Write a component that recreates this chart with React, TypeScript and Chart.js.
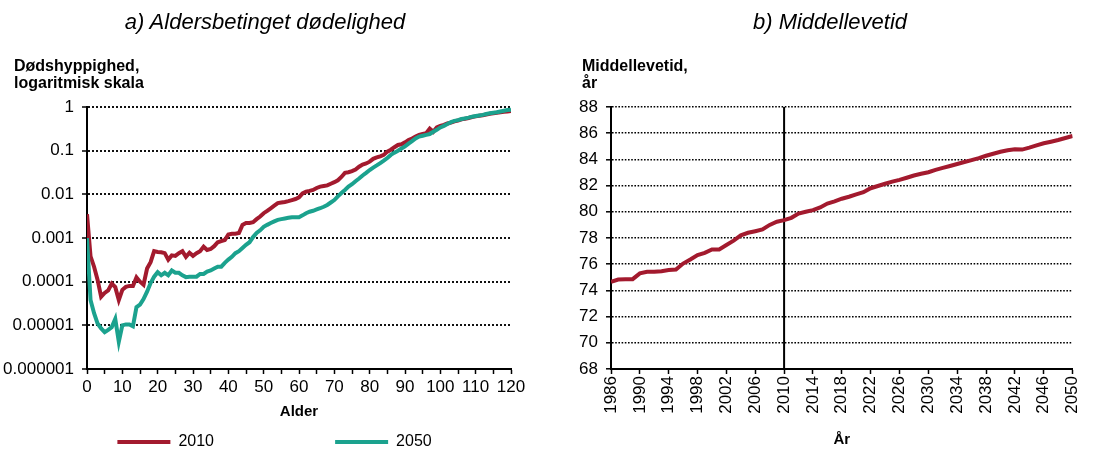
import React, { useEffect, useRef } from 'react';
import { Chart, registerables } from 'chart.js';

Chart.register(...registerables);

const FONT = "'Liberation Sans', Arial, Helvetica, sans-serif";
Chart.defaults.font.family = FONT;
Chart.defaults.color = '#000';

// ---------- Panel a) data ----------
const ages = Array.from({ length: 121 }, (_, i) => i);

const mortality2010 = [
  0.0035, 0.00038, 0.00022, 0.00011, 0.000045, 0.000055, 0.000063, 0.00009, 0.000075, 0.000038,
  0.000065, 0.000076, 0.00008, 0.00008, 0.000125, 0.0001, 0.000085, 0.0002, 0.00028, 0.0005,
  0.00048, 0.00047, 0.00045, 0.00032, 0.0004, 0.00039, 0.00045, 0.0005, 0.00037, 0.00046,
  0.00039, 0.00045, 0.0005, 0.00063, 0.00053, 0.00056, 0.00065, 0.0008, 0.00085, 0.0009,
  0.0012, 0.00125, 0.00125, 0.0013, 0.002, 0.0022, 0.0022, 0.0023, 0.0027, 0.0031,
  0.0037, 0.0042, 0.0048, 0.0055, 0.0063, 0.0065, 0.0067, 0.007, 0.0074, 0.0078,
  0.0085, 0.0105, 0.0115, 0.012, 0.0126, 0.014, 0.015, 0.0155, 0.016, 0.0175,
  0.019, 0.021, 0.025, 0.031, 0.032, 0.034, 0.037, 0.043, 0.048, 0.051,
  0.056, 0.065, 0.07, 0.074, 0.08, 0.095, 0.105, 0.12, 0.135, 0.14,
  0.155, 0.175, 0.19, 0.21, 0.23, 0.24, 0.25, 0.32, 0.27, 0.34,
  0.37, 0.39, 0.42, 0.44, 0.47, 0.49, 0.52, 0.54, 0.56, 0.59,
  0.61, 0.63, 0.65, 0.67, 0.7, 0.72, 0.74, 0.76, 0.78, 0.79, 0.81,
];

const mortality2050 = [
  0.001, 0.000038, 0.000019, 0.000011, 0.0000085, 0.000007, 0.0000079, 0.0000091, 0.000014, 0.0000042,
  0.00001, 0.0000105, 0.0000105, 0.0000095, 0.000026, 0.00003, 0.00004, 0.000059, 0.000093, 0.00013,
  0.000165, 0.00014, 0.00016, 0.00014, 0.00018, 0.00016, 0.00016, 0.00014, 0.000127, 0.00013,
  0.00013, 0.00013, 0.00015, 0.00015, 0.00017, 0.00018, 0.0002, 0.00022, 0.00022, 0.00027,
  0.00032, 0.00037, 0.00045, 0.0005, 0.00059, 0.0007, 0.0008, 0.00105, 0.0013, 0.0015,
  0.0018, 0.002, 0.0022, 0.0024, 0.0026, 0.0027, 0.0028, 0.0029, 0.003, 0.003,
  0.003, 0.0033, 0.0037, 0.004, 0.0042, 0.0045, 0.0048, 0.0052, 0.0057, 0.0065,
  0.0074, 0.009, 0.0107, 0.0126, 0.015, 0.017, 0.02, 0.023, 0.027, 0.031,
  0.036, 0.041, 0.046, 0.052, 0.059, 0.068, 0.08, 0.09, 0.1, 0.112,
  0.125, 0.145, 0.165, 0.19, 0.21, 0.22, 0.23, 0.24, 0.27, 0.3,
  0.34, 0.37, 0.41, 0.45, 0.48, 0.5, 0.53, 0.55, 0.57, 0.6,
  0.62, 0.64, 0.66, 0.69, 0.72, 0.74, 0.76, 0.79, 0.82, 0.85, 0.87,
];

const logTickValues = [1, 0.1, 0.01, 0.001, 0.0001, 0.00001, 0.000001];
const logTickLabels = ['1', '0.1', '0.01', '0.001', '0.0001', '0.00001', '0.000001'];
const seriesLabels = ['2010', '2050'];

// ---------- Panel b) data ----------
const years = Array.from({ length: 65 }, (_, i) => 1986 + i);
const lifeExpectancy = [
  74.66, 74.83, 74.86, 74.86, 75.3, 75.42, 75.42, 75.47, 75.55, 75.6,
  76.05, 76.36, 76.7, 76.87, 77.13, 77.13, 77.46, 77.8, 78.2, 78.4,
  78.52, 78.65, 79.0, 79.24, 79.36, 79.54, 79.87, 80.0, 80.13, 80.33,
  80.63, 80.8, 81.0, 81.15, 81.33, 81.5, 81.8, 81.97, 82.14, 82.3,
  82.44, 82.6, 82.77, 82.9, 83.02, 83.2, 83.35, 83.5, 83.65, 83.8,
  83.95, 84.1, 84.28, 84.43, 84.58, 84.7, 84.78, 84.75, 84.9, 85.07,
  85.23, 85.35, 85.48, 85.63, 85.79,
];
const yearTicks = [1986, 1990, 1994, 1998, 2002, 2006, 2010, 2014, 2018, 2022, 2026, 2030, 2034, 2038, 2042, 2046, 2050];
const lifeMin = 68;
const lifeMax = 88;
const markerYear = 2010;

// ---------- texts ----------
const titleA = 'a) Aldersbetinget dødelighed';
const titleB = 'b) Middellevetid';
const captionA = ['Dødshyppighed,', 'logaritmisk skala'];
const captionB = ['Middellevetid,', 'år'];

// ---------- styles ----------
const RED = '#A31A2E';
const GREEN = '#1BA28E';
const legendTrailingSpaces = [25, 11];

function leftConfig(): any {
  const colors = [RED, GREEN];
  return {
    type: 'line',
    data: {
      datasets: [
        {
          label: seriesLabels[0],
          data: ages.map((a, i) => ({ x: a, y: mortality2010[i] })),
          borderColor: RED,
          backgroundColor: RED,
          borderWidth: 4,
          pointRadius: 0,
          tension: 0,
          order: 1,
        },
        {
          label: seriesLabels[1],
          data: ages.map((a, i) => ({ x: a, y: mortality2050[i] })),
          borderColor: GREEN,
          backgroundColor: GREEN,
          borderWidth: 4,
          pointRadius: 0,
          tension: 0,
          order: 0,
        },
      ],
    },
    options: {
      animation: false,
      responsive: false,
      maintainAspectRatio: false,
      layout: { padding: { left: 0, right: 19, top: 107, bottom: 0 } },
      plugins: {
        title: { display: false },
        legend: {
          display: true,
          position: 'bottom',
          fullSize: false,
          maxHeight: 26,
          labels: {
            boxWidth: 53,
            boxHeight: 4,
            padding: 10,
            font: { size: 16 },
            color: '#000',
            generateLabels: () =>
              seriesLabels.map((lbl, i) => ({
                text: lbl + ' '.repeat(legendTrailingSpaces[i]),
                fillStyle: colors[i],
                strokeStyle: colors[i],
                lineWidth: 0,
                hidden: false,
                datasetIndex: i,
              })),
          },
        },
        tooltip: { enabled: false },
      },
      scales: {
        x: {
          type: 'linear',
          min: 0,
          max: 120,
          ticks: {
            stepSize: 5,
            autoSkip: false,
            maxRotation: 0,
            minRotation: 0,
            padding: 3,
            font: { size: 17 },
            color: '#000',
            callback: (v: number) => (v % 10 === 0 ? String(v) : ''),
          },
          grid: {
            drawOnChartArea: false,
            drawTicks: true,
            tickLength: 5,
            tickColor: '#000',
            tickWidth: 1.5,
          },
          border: { display: true, color: '#000', width: 2 },
          title: {
            display: true,
            text: 'Alder',
            font: { size: 15, weight: 'bold' },
            color: '#000',
            padding: { top: 0, bottom: 3 },
          },
          afterFit: (s: any) => {
            s.height = 55;
          },
        },
        y: {
          type: 'logarithmic',
          min: 0.000001,
          max: 1,
          afterBuildTicks: (s: any) => {
            s.ticks = logTickValues.map((v) => ({ value: v }));
          },
          ticks: {
            padding: 8,
            font: { size: 17 },
            color: '#000',
            callback: (value: number) => {
              const idx = logTickValues.findIndex(
                (t) => Math.abs(Math.log10(t) - Math.log10(value)) < 1e-6
              );
              return idx >= 0 ? logTickLabels[idx] : '';
            },
          },
          grid: {
            color: '#111',
            lineWidth: 2,
            tickLength: 5,
            tickColor: '#000',
            tickWidth: 1.5,
            tickBorderDash: [],
          },
          border: { display: true, color: '#000', width: 2, dash: [2, 2] },
          afterFit: (s: any) => {
            s.width = 87;
          },
        },
      },
    },
  };
}

function rightConfig(): any {
  return {
    type: 'line',
    data: {
      datasets: [
        {
          label: 'Middellevetid',
          data: years.map((y, i) => ({ x: y, y: lifeExpectancy[i] })),
          borderColor: RED,
          backgroundColor: RED,
          borderWidth: 4,
          pointRadius: 0,
          tension: 0,
        },
        {
          label: 'marker',
          data: [
            { x: markerYear, y: lifeMin },
            { x: markerYear, y: lifeMax },
          ],
          borderColor: '#000',
          backgroundColor: '#000',
          borderWidth: 2,
          pointRadius: 0,
        },
      ],
    },
    options: {
      animation: false,
      responsive: false,
      maintainAspectRatio: false,
      layout: { padding: { left: 0, right: 12, top: 107, bottom: 0 } },
      plugins: {
        title: { display: false },
        legend: { display: false },
        tooltip: { enabled: false },
      },
      scales: {
        x: {
          type: 'linear',
          min: years[0],
          max: years[years.length - 1],
          afterBuildTicks: (s: any) => {
            s.ticks = yearTicks.map((v) => ({ value: v }));
          },
          ticks: {
            autoSkip: false,
            minRotation: 90,
            maxRotation: 90,
            padding: 2,
            font: { size: 17 },
            color: '#000',
            callback: (v: number) => String(v),
          },
          grid: {
            drawOnChartArea: false,
            drawTicks: true,
            tickLength: 5,
            tickColor: '#000',
            tickWidth: 1.5,
          },
          border: { display: true, color: '#000', width: 2 },
          title: {
            display: true,
            text: 'År',
            font: { size: 15, weight: 'bold' },
            color: '#000',
            padding: { top: 0, bottom: 1 },
          },
          afterFit: (s: any) => {
            s.height = 81;
          },
        },
        y: {
          type: 'linear',
          min: lifeMin,
          max: lifeMax,
          ticks: {
            stepSize: 2,
            padding: 8,
            font: { size: 17 },
            color: '#000',
          },
          grid: {
            color: '#000',
            lineWidth: 1.6,
            tickLength: 5,
            tickColor: '#000',
            tickWidth: 1.5,
            tickBorderDash: [],
          },
          border: { display: true, color: '#000', width: 2, dash: [1.6, 1.6] },
          afterFit: (s: any) => {
            s.width = 34;
          },
        },
      },
    },
  };
}

function ChartPanel({ makeConfig, left, width }: { makeConfig: () => any; left: number; width: number }) {
  const ref = useRef<HTMLCanvasElement>(null);
  useEffect(() => {
    if (!ref.current) return;
    const chart = new Chart(ref.current, makeConfig());
    return () => chart.destroy();
  }, []);
  return (
    <canvas
      ref={ref}
      width={width}
      height={450}
      style={{ position: 'absolute', left, top: 0, width, height: 450 }}
    />
  );
}

const titleStyle: React.CSSProperties = {
  position: 'absolute',
  top: 9,
  width: 530,
  textAlign: 'center',
  fontFamily: FONT,
  fontStyle: 'italic',
  fontSize: 22,
  lineHeight: '26px',
  color: '#000',
  whiteSpace: 'nowrap',
};

const captionStyle: React.CSSProperties = {
  position: 'absolute',
  top: 57,
  fontFamily: FONT,
  fontWeight: 'bold',
  fontSize: 16,
  lineHeight: '17px',
  color: '#000',
  whiteSpace: 'nowrap',
};

export default function App() {
  return (
    <div
      style={{
        position: 'absolute',
        left: 0,
        top: 0,
        width: 1095,
        height: 450,
        background: '#fff',
        overflow: 'hidden',
      }}
    >
      <ChartPanel makeConfig={leftConfig} left={0} width={530} />
      <ChartPanel makeConfig={rightConfig} left={577} width={518} />
      <div style={{ ...titleStyle, left: 0 }}>{titleA}</div>
      <div style={{ ...titleStyle, left: 565 }}>{titleB}</div>
      <div style={{ ...captionStyle, left: 14 }}>
        {captionA.map((l) => (
          <div key={l}>{l}</div>
        ))}
      </div>
      <div style={{ ...captionStyle, left: 582 }}>
        {captionB.map((l) => (
          <div key={l}>{l}</div>
        ))}
      </div>
    </div>
  );
}
